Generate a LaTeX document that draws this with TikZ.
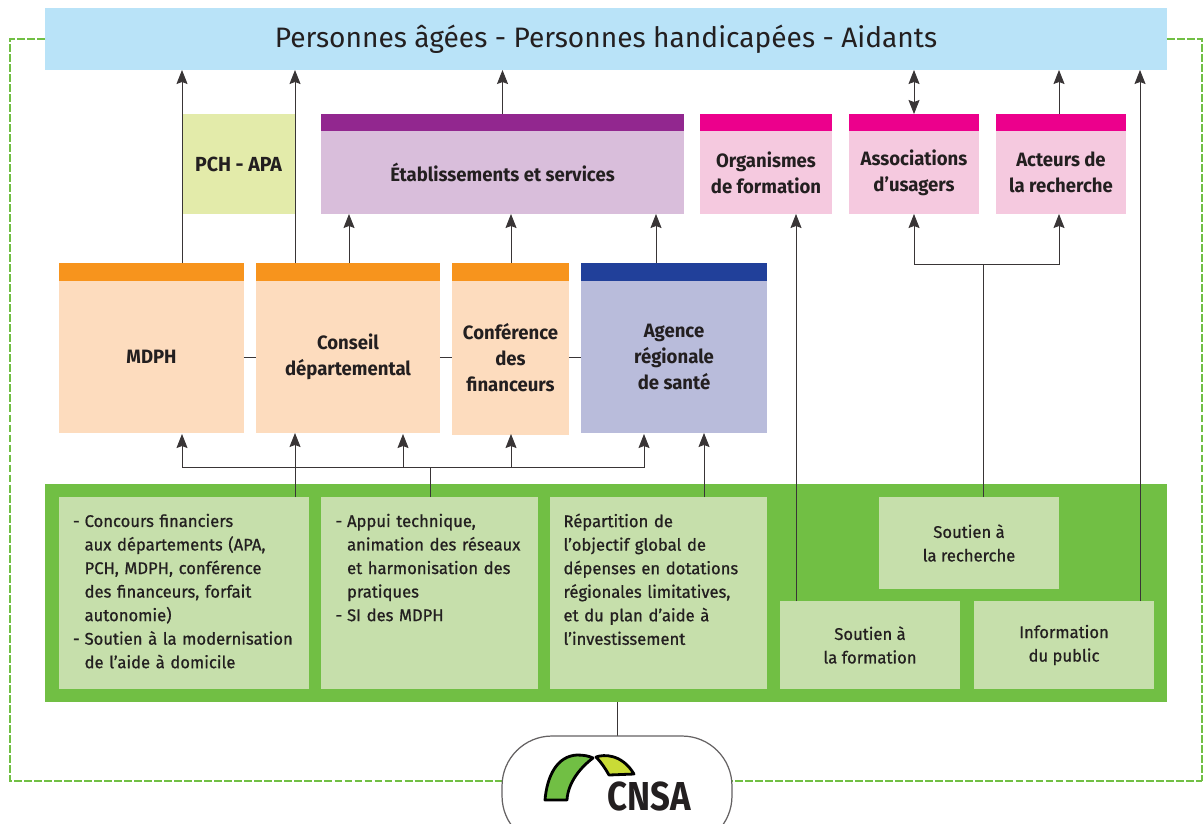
\documentclass[tikz,border=0pt]{standalone}
\usepackage{fontspec}
\setmainfont{Fira Sans}
\newfontfamily\titrefont[FakeStretch=0.96]{Fira Sans}
\newfontfamily\textefont[FakeStretch=0.985,FakeBold=0.8]{Fira Sans}
\newfontfamily\siglefont[FakeStretch=0.86]{Fira Sans}
\usetikzlibrary{positioning,arrows.meta}
\definecolor{ciel}{HTML}{B9E3F8}
\definecolor{vertfort}{HTML}{71BF44}
\definecolor{vertpale}{HTML}{C6DFAB}
\definecolor{anis}{HTML}{E3EBAA}
\definecolor{citron}{HTML}{C9DB36}
\definecolor{violet}{HTML}{92278F}
\definecolor{mauve}{HTML}{D9BEDB}
\definecolor{fuchsia}{HTML}{EC008C}
\definecolor{rose}{HTML}{F5C9DF}
\definecolor{orange}{HTML}{F7941D}
\definecolor{peche}{HTML}{FDDCBE}
\definecolor{marine}{HTML}{21409A}
\definecolor{lavande}{HTML}{B9BCDB}
\definecolor{encre}{HTML}{231F20}
\newcommand{\tiret}{\makebox[6.6pt][l]{-}}
\newcommand{\retrait}{\hspace*{6.6pt}}
\newcommand{\cale}{\rule[-2.3pt]{0pt}{1pt}}
\tikzset{
  boite/.style={inner sep=0pt, outer sep=0pt, align=center, text=encre, font=\fontsize{11}{14.8}\titrefont\bfseries},
  bande/.style={boite, minimum height=#1},
  corps/.style={boite, fill=vertpale, font=\fontsize{9.6}{13.4}\textefont},
  fleche/.style={draw=encre!90, line width=0.5pt, -{Stealth[length=2.8mm,width=2.2mm,inset=0.4mm]}},
  lien/.style={draw=encre!90, line width=0.5pt},
  tirets/.style={draw=vertfort, line width=0.9pt, dash pattern=on 4.5pt off 1.2pt},
}
\begin{document}
\begin{tikzpicture}[x=0.02cm,y=-0.02cm]
  \clip (0,0) rectangle (1203,823);
  \fill[white] (0,0) rectangle (1203,823);

  % publics
  \node (top) [boite, fill=ciel, minimum width=22.44cm, minimum height=1.24cm, font=\fontsize{16}{18}\selectfont] at (606,39)
    {Personnes âgées - Personnes handicapées - Aidants};

  % acteurs du haut
  \node (pch) [boite, fill=anis, minimum width=2.26cm, minimum height=2cm, font=\fontsize{11.6}{14.8}\titrefont\bfseries] at (238.5,164) {PCH - APA};
  \node (etab) [boite, fill=mauve, minimum width=7.26cm, minimum height=1.66cm] at (502.5,172.5) {Établissements et services};
  \node (etabh) [bande=0.34cm, fill=violet, minimum width=7.26cm, above=0pt of etab] {};
  \node (orga) [boite, fill=rose, minimum width=2.64cm, minimum height=1.66cm] at (766,172.5) {Organismes\\de formation};
  \node (orgah) [bande=0.34cm, fill=fuchsia, minimum width=2.64cm, above=0pt of orga] {};
  \node (asso) [boite, fill=rose, minimum width=2.6cm, minimum height=1.66cm] at (914,172.5) {Associations\\d’usagers};
  \node (assoh) [bande=0.34cm, fill=fuchsia, minimum width=2.6cm, above=0pt of asso] {};
  \node (rech) [boite, fill=rose, minimum width=2.6cm, minimum height=1.66cm] at (1061,172.5) {Acteurs de\\la recherche};
  \node (rechh) [bande=0.34cm, fill=fuchsia, minimum width=2.6cm, above=0pt of rech] {};

  % acteurs locaux
  \node (mdph) [boite, fill=peche, minimum width=3.7cm, minimum height=3.04cm] at (151.5,357) {MDPH};
  \node (mdphh) [bande=0.36cm, fill=orange, minimum width=3.7cm, above=0pt of mdph] {};
  \node (cd) [boite, fill=peche, minimum width=3.68cm, minimum height=3.04cm] at (348,357) {Conseil\\départemental};
  \node (cdh) [bande=0.36cm, fill=orange, minimum width=3.68cm, above=0pt of cd] {};
  \node (conf) [boite, fill=peche, minimum width=2.34cm, minimum height=3.08cm] at (510.5,358) {Conférence\\des\\financeurs};
  \node (confh) [bande=0.36cm, fill=orange, minimum width=2.34cm, above=0pt of conf] {};
  \node (ars) [boite, fill=lavande, minimum width=3.72cm, minimum height=3.04cm] at (674,357) {Agence\\régionale\\de santé};
  \node (arsh) [bande=0.36cm, fill=marine, minimum width=3.72cm, above=0pt of ars] {};

  % missions
  \node (socle) [boite, fill=vertfort, minimum width=22.44cm, minimum height=4.36cm] at (606,593) {};
  \node (concours) [corps, minimum width=5cm, minimum height=3.84cm, text width=4.44cm, align=left] at (184,593)
    {\tiret Concours financiers\\
     \retrait aux départements (APA,\\
     \retrait PCH, MDPH, conférence\\
     \retrait des financeurs, forfait\\
     \retrait autonomie)\\
     \tiret Soutien à la modernisation\\
     \retrait de l’aide à domicile\cale};
  \node (appui) [corps, minimum width=4.34cm, minimum height=3.84cm, text width=3.76cm, align=left] at (429.5,593)
    {\tiret Appui technique,\\
     \retrait animation des réseaux\\
     \retrait et harmonisation des\\
     \retrait pratiques\\
     \tiret SI des MDPH\\
     \mbox{}\\
     \mbox{}\cale};
  \node (repart) [corps, minimum width=4.34cm, minimum height=3.84cm, text width=3.8cm, align=left] at (658.5,593)
    {Répartition de\\
     l’objectif global de\\
     dépenses en dotations\\
     régionales limitatives,\\
     et du plan d’aide à\\
     l’investissement\\
     \mbox{}\cale};
  \node (srech) [corps, align=center, minimum width=3.6cm, minimum height=1.84cm] at (969,543) {Soutien à\\la recherche};
  \node (sform) [corps, align=center, minimum width=3.6cm, minimum height=1.76cm] at (870,645) {Soutien à\\la formation};
  \node (info) [corps, align=center, minimum width=3.6cm, minimum height=1.76cm] at (1064,645) {Information\\du public};

  % points de depart et d'arrivee
  \coordinate (d1) at (182,263);
  \coordinate (d2) at (295,263);
  \coordinate (d3) at (349,263);
  \coordinate (d4) at (511,263);
  \coordinate (d5) at (656,263);
  \coordinate (d6) at (796,601);
  \coordinate (d7) at (1140,601);
  \coordinate (d8) at (1059,114);
  \coordinate (d9) at (295,497);
  \coordinate (d10) at (430,497);
  \coordinate (d11) at (704,497);
  \coordinate (j1) at (430,467);
  \coordinate (j2) at (983,264);
  \coordinate (c1) at (182,434);
  \coordinate (c2) at (403,434);
  \coordinate (c3) at (511,434);
  \coordinate (c4) at (644,434);
  \coordinate (coinbg) at (10,781);
  \coordinate (coinbd) at (1202,781);
  \coordinate (s1) at (617,702);
  \coordinate (s2) at (617,736);

  % vers le haut
  \draw[fleche] (d1) -- (d1 |- top.south);
  \draw[fleche] (d2) -- (d2 |- top.south);
  \draw[fleche] (etabh.north) -- (etabh.north |- top.south);
  \draw[fleche, {Stealth[length=2.8mm,width=2.2mm,inset=0.4mm]}-{Stealth[length=2.8mm,width=2.2mm,inset=0.4mm]}] (assoh.north) -- (assoh.north |- top.south);
  \draw[fleche] (d8) -- (d8 |- top.south);
  \draw[fleche] (d7) -- (d7 |- top.south);
  \draw[fleche] (d3) -- (d3 |- etab.south);
  \draw[fleche] (d4) -- (d4 |- etab.south);
  \draw[fleche] (d5) -- (d5 |- etab.south);
  \draw[fleche] (d6) -- (d6 |- orga.south);

  % recherche
  \draw[lien] (srech.north -| j2) -- (j2);
  \draw[fleche] (j2) -| (asso.south);
  \draw[fleche] (j2) -| (d8 |- rech.south);

  % liens entre acteurs
  \draw[lien] (mdph.east) -- (cd.west);
  \draw[lien] (cd.east) -- (conf.west |- cd.east);
  \draw[lien] (conf.east |- cd.east) -- (ars.west);

  % vers les acteurs locaux
  \draw[lien] (d10) -- (j1);
  \draw[fleche] (j1) -| (c1);
  \draw[fleche] (j1) -| (c2);
  \draw[fleche] (j1) -| (c3);
  \draw[fleche] (j1) -| (c4);
  \draw[fleche] (d9) -- (d9 |- mdph.south);
  \draw[fleche] (d11) -- (d11 |- ars.south);

  % logo
  \draw[tirets] (top.west) -| (coinbg) -- (coinbd);
  \draw[tirets] (top.east) -| (coinbd);
  \draw[lien] (s1) -- (s2);
  \node (cnsa) [draw=encre!70, fill=white, line width=0.7pt, rounded corners=1cm, minimum width=4.6cm, minimum height=2.2cm, inner sep=0pt] at (617,791) {};
  \draw[fill=vertfort, draw=black, line width=1.6pt, line join=round] (545,800) .. controls (547,776) and (557,756) .. (577,755) .. controls (584,755) and (589,756) .. (593,758) .. controls (581,767) and (568,782) .. (567,800) -- cycle;
  \draw[fill=citron, draw=black, line width=1.6pt, line join=round] (596,757) .. controls (604,754) and (622,754) .. (634,774) -- (609,775) .. controls (605,768) and (601,762) .. (596,757) -- cycle;
  \node (sigle) [text=encre, font=\fontsize{23}{23}\siglefont\bfseries, inner sep=0pt] at (649.5,796) {CNSA};
\end{tikzpicture}
\end{document}
